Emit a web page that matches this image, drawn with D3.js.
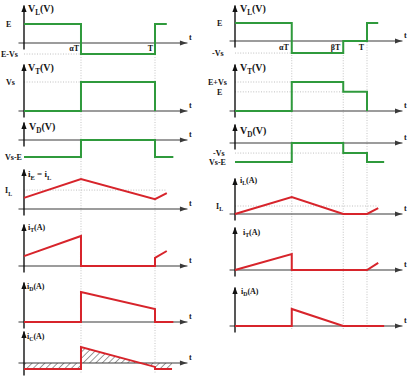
<!DOCTYPE html>
<html><head><meta charset="utf-8">
<script src="https://cdn.jsdelivr.net/npm/d3@7"></script>
<style>body{margin:0;background:#fff}svg{display:block}</style>
</head><body><svg id="c" width="408" height="378"></svg>
<script>
// ---------- data: time in units of T, values normalised per panel ----------
const alphaL = 0.435;
const alphaR = 0.43, betaR = 0.82;

// left column (continuous conduction)
const L_VL_t = [0, alphaL, alphaL, 1, 1, 1.09];
const L_VL_v = [1, 1, -0.58, -0.58, 1, 1];
const L_VT_t = [0, alphaL, alphaL, 1, 1];
const L_VT_v = [0, 0, 1, 1, 0];
const L_VD_t = [0, alphaL, alphaL, 1, 1, 1.14];
const L_VD_v = [-1, -1, 0, 0, -1, -1];
const L_IL_t = [0, alphaL, 1, 1.09];
const L_IL_v = [0.37, 1, 0.33, 0.53];
const L_IL_avg = 0.63;
const L_IT_t = [0, alphaL, alphaL, 1, 1, 1.09];
const L_IT_v = [0.33, 1, 0, 0, 0.27, 0.5];
const L_ID_t = [0, alphaL, alphaL, 1, 1, 1.14];
const L_ID_v = [0, 0, 1, 0.43, 0, 0];
const L_IC_t = [0, alphaL, alphaL, 1, 1, 1.13];
const L_IC_v = [-0.2, -0.2, 0.53, -0.13, -0.2, -0.2];

// right column (discontinuous conduction)
const R_VL_t = [0, alphaR, alphaR, betaR, betaR, 1, 1, 1.085];
const R_VL_v = [1, 1, -0.67, -0.67, 0, 0, 1, 1];
const R_VT_t = [0, alphaR, alphaR, betaR, betaR, 1, 1];
const R_VT_v = [0, 0, 1, 1, 0.66, 0.66, 0];
const R_VD_t = [0, alphaR, alphaR, betaR, betaR, 1, 1, 1.13];
const R_VD_v = [-1, -1, 0, 0, -0.53, -0.53, -1, -1];
const R_IL_t = [0, alphaR, betaR, 1, 1.085];
const R_IL_v = [0, 1, 0, 0, 0.35];
const R_IL_avg = 0.47;
const R_IT_t = [0, alphaR, alphaR, 1, 1.085];
const R_IT_v = [0, 1, 0, 0, 0.44];
const R_ID_t = [0, alphaR, alphaR, betaR, 1.13];
const R_ID_v = [0, 0, 1, 0, 0];

const timeLabelsL = [["αT", alphaL], ["T", 1]];
const timeLabelsR = [["αT", alphaR], ["βT", betaR], ["T", 1]];

// ---------- drawing ----------
const GREEN = "#2f9a3c", RED = "#d7242b";
const FONT = "'Liberation Serif', 'DejaVu Serif', serif";
const svg = d3.select("#c");
const defs = svg.append("defs");
const pat = defs.append("pattern").attr("id", "hatch").attr("patternUnits", "userSpaceOnUse")
  .attr("width", 4.5).attr("height", 4.5).attr("patternTransform", "rotate(45)");
pat.append("line").attr("x1", 0).attr("y1", 0).attr("x2", 0).attr("y2", 4.5)
  .attr("stroke", "#222").attr("stroke-width", 0.9);

const cols = {
  L: { x: d3.scaleLinear().domain([0, 1]).range([24, 155]), tmin: -0.046, tmax: 1.244, gTop: 44, gBot: 374, guides: [alphaL, 1] },
  R: { x: d3.scaleLinear().domain([0, 1]).range([235, 367]), tmin: -0.045, tmax: 1.265, gTop: 42, gBot: 330, guides: [alphaR, betaR, 1] }
};

function label(g, x, y, parts, size, anchor) {
  const t = g.append("text").attr("x", x).attr("y", y).attr("font-size", size)
    .attr("font-family", FONT).attr("font-weight", "bold").attr("fill", "#151515")
    .attr("text-anchor", anchor || "start");
  let shift = 0;
  parts.forEach(p => {
    const sub = !!p[1];
    const dy = (sub ? size * 0.3 : 0) - shift;
    shift = sub ? size * 0.3 : 0;
    const s = t.append("tspan").attr("dy", dy).text(p[0]);
    if (sub) s.attr("font-size", size * 0.72);
  });
}

const panels = [
  { col: "L", axisY: 43, unit: 19, top: 5, t: L_VL_t, v: L_VL_v, color: GREEN,
    title: [["V"], ["L", 1], ["(V)"]], tx: 28, ty: 12, ts: 10,
    levels: [{ v: 1, text: "E", lx: 6 }, { v: -0.58, text: "E-Vs", lx: 1, dotTo: alphaL }] },
  { col: "L", axisY: 111, unit: 29, top: 64, t: L_VT_t, v: L_VT_v, color: GREEN,
    title: [["V"], ["T", 1], ["(V)"]], tx: 28, ty: 71, ts: 10,
    levels: [{ v: 1, text: "Vs", lx: 6, dotTo: alphaL }] },
  { col: "L", axisY: 140, unit: 17, top: 122, t: L_VD_t, v: L_VD_v, color: GREEN,
    title: [["V"], ["D", 1], ["(V)"]], tx: 29, ty: 130, ts: 10,
    levels: [{ v: -1, text: "Vs-E", lx: 5 }] },
  { col: "L", axisY: 209, unit: 30, top: 169, t: L_IL_t, v: L_IL_v, color: RED,
    title: [["i"], ["E", 1], [" = i"], ["L", 1]], tx: 28, ty: 177, ts: 9,
    levels: [{ v: L_IL_avg, text: [["I"], ["L", 1]], lx: 5, dotTo: 1.09 }] },
  { col: "L", axisY: 266, unit: 30, top: 224, t: L_IT_t, v: L_IT_v, color: RED,
    title: [["i"], ["T", 1], ["(A)"]], tx: 28, ty: 230, ts: 8, levels: [] },
  { col: "L", axisY: 322, unit: 30, top: 282, t: L_ID_t, v: L_ID_v, color: RED,
    title: [["i"], ["D", 1], ["(A)"]], tx: 27, ty: 289, ts: 8, levels: [] },
  { col: "L", axisY: 363, unit: 30, top: 331, below: 12, t: L_IC_t, v: L_IC_v, color: RED, hatch: true,
    title: [["i"], ["C", 1], ["(A)"]], tx: 27, ty: 339, ts: 8, levels: [] },

  { col: "R", axisY: 41, unit: 18, top: 5, t: R_VL_t, v: R_VL_v, color: GREEN,
    title: [["V"], ["L", 1], ["(V)"]], tx: 240, ty: 12, ts: 10,
    levels: [{ v: 1, text: "E", lx: 217 }, { v: -0.67, text: "-Vs", lx: 212, dotTo: alphaR }] },
  { col: "R", axisY: 111, unit: 29, top: 64, t: R_VT_t, v: R_VT_v, color: GREEN,
    title: [["V"], ["T", 1], ["(V)"]], tx: 240, ty: 71, ts: 10,
    levels: [{ v: 1, text: "E+Vs", lx: 208, dotTo: alphaR }, { v: 0.66, text: "E", lx: 217, dotTo: betaR }] },
  { col: "R", axisY: 143, unit: 19, top: 124, t: R_VD_t, v: R_VD_v, color: GREEN,
    title: [["V"], ["D", 1], ["(V)"]], tx: 240, ty: 134, ts: 10,
    levels: [{ v: -0.53, text: "-Vs", lx: 213, dotTo: betaR }, { v: -1, text: "Vs-E", lx: 209 }] },
  { col: "R", axisY: 214, unit: 17, top: 178, t: R_IL_t, v: R_IL_v, color: RED,
    title: [["i"], ["L", 1], ["(A)"]], tx: 240, ty: 183, ts: 8,
    levels: [{ v: R_IL_avg, text: [["I"], ["L", 1]], lx: 216, dotTo: 1.085 }] },
  { col: "R", axisY: 270, unit: 16, top: 227, t: R_IT_t, v: R_IT_v, color: RED,
    title: [["i"], ["T", 1], ["(A)"]], tx: 243, ty: 235, ts: 8, levels: [] },
  { col: "R", axisY: 326, unit: 17, top: 287, t: R_ID_t, v: R_ID_v, color: RED,
    title: [["i"], ["D", 1], ["(A)"]], tx: 241, ty: 294, ts: 8, levels: [] }
];

// vertical dotted guides
Object.values(cols).forEach(c => {
  svg.append("g").selectAll("line").data(c.guides).join("line")
    .attr("x1", d => c.x(d)).attr("x2", d => c.x(d))
    .attr("y1", c.gTop).attr("y2", c.gBot)
    .attr("stroke", "#b5b5b5").attr("stroke-width", 0.8).attr("stroke-dasharray", "1,1.6");
});

panels.forEach(p => {
  const c = cols[p.col], x = c.x;
  const y = d3.scaleLinear().domain([0, 1]).range([p.axisY, p.axisY - p.unit]);
  const g = svg.append("g");
  const below = p.below || 6;

  p.levels.forEach(l => {
    if (l.dotTo != null) {
      g.append("line").attr("x1", x(0)).attr("x2", x(l.dotTo))
        .attr("y1", y(l.v)).attr("y2", y(l.v))
        .attr("stroke", "#b0b0b0").attr("stroke-width", 0.8).attr("stroke-dasharray", "1,1.6");
    }
    const parts = typeof l.text === "string" ? [[l.text]] : l.text;
    label(g, l.lx, y(l.v) + 3, parts, 8);
  });

  if (p.hatch) {
    const pts = d3.zip(p.t, p.v);
    g.append("path").attr("d", d3.area().x(d => x(d[0])).y0(y(0)).y1(d => y(d[1]))(pts))
      .attr("fill", "url(#hatch)").attr("stroke", "none");
  }

  const ts = x.copy().domain([c.tmin, c.tmax]).range([x(c.tmin), x(c.tmax)]);
  const ga = g.append("g").attr("transform", `translate(0,${p.axisY - 0.5})`)
    .call(d3.axisBottom(ts).tickValues([]).tickSizeOuter(0));
  ga.select(".domain").attr("stroke", "#3a3a3a").attr("stroke-width", 1.1);
  const xe = x(c.tmax);
  g.append("path").attr("d", `M${xe},${p.axisY}L${xe - 7},${p.axisY - 2.6}L${xe - 7},${p.axisY + 2.6}Z`).attr("fill", "#3a3a3a");
  label(g, xe + 2, p.axisY - 3, [["t"]], 8);

  const ys = y.copy().domain([y.invert(p.axisY + below), y.invert(p.top)]).range([p.axisY + below, p.top]);
  const gy = g.append("g").attr("transform", `translate(${x(0) - 0.5},0)`)
    .call(d3.axisLeft(ys).tickValues([]).tickSizeOuter(0));
  gy.select(".domain").attr("stroke", "#111").attr("stroke-width", 1.4);
  const x0 = x(0);
  g.append("path").attr("d", `M${x0},${p.top}L${x0 - 2.6},${p.top + 7}L${x0 + 2.6},${p.top + 7}Z`).attr("fill", "#111");

  label(g, p.tx, p.ty, p.title, p.ts);

  g.append("path").attr("d", d3.line().x(d => x(d[0])).y(d => y(d[1]))(d3.zip(p.t, p.v)))
    .attr("fill", "none").attr("stroke", p.color).attr("stroke-width", 2).attr("stroke-linejoin", "miter");
});

timeLabelsL.forEach(([s, t]) => label(svg, cols.L.x(t) - 2, 51, [[s]], 8, "end"));
timeLabelsR.forEach(([s, t]) => label(svg, cols.R.x(t) - 3, 50, [[s]], 8, "end"));
</script></body></html>
